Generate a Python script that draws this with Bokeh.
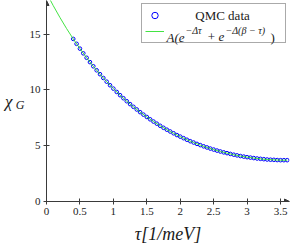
from bokeh.plotting import figure
from bokeh.models import Range1d, FixedTicker, Label, Legend, LegendItem, Arrow, NormalHead, LinearAxis
from bokeh.embed import file_html
from bokeh.resources import INLINE

# ---- data ----
qmc_tau = [0.40, 0.45, 0.50, 0.55, 0.60, 0.65, 0.70, 0.75, 0.80, 0.85,
           0.90, 0.95, 1.00, 1.05, 1.10, 1.15, 1.20, 1.25, 1.30, 1.35,
           1.40, 1.45, 1.50, 1.55, 1.60, 1.65, 1.70, 1.75, 1.80, 1.85,
           1.90, 1.95, 2.00, 2.05, 2.10, 2.15, 2.20, 2.25, 2.30, 2.35,
           2.40, 2.45, 2.50, 2.55, 2.60, 2.65, 2.70, 2.75, 2.80, 2.85,
           2.90, 2.95, 3.00, 3.05, 3.10, 3.15, 3.20, 3.25, 3.30, 3.35,
           3.40, 3.45, 3.50, 3.55, 3.60]
qmc_chi = [14.56, 14.12, 13.69, 13.27, 12.87, 12.48, 12.11, 11.75, 11.40, 11.06,
           10.73, 10.41, 10.11, 9.81, 9.52, 9.25, 8.98, 8.72, 8.48, 8.24,
           8.00, 7.78, 7.57, 7.36, 7.16, 6.97, 6.78, 6.60, 6.43, 6.27,
           6.11, 5.95, 5.81, 5.67, 5.53, 5.40, 5.28, 5.16, 5.05, 4.94,
           4.84, 4.74, 4.65, 4.56, 4.48, 4.40, 4.33, 4.26, 4.19, 4.13,
           4.07, 4.02, 3.97, 3.93, 3.89, 3.85, 3.82, 3.79, 3.76, 3.74,
           3.73, 3.71, 3.70, 3.70, 3.70]
fit_tau = [0.0, 0.1, 0.2, 0.3, 0.4, 0.5, 0.6, 0.7, 0.8, 0.9,
           1.0, 1.1, 1.2, 1.3, 1.4, 1.5, 1.6, 1.7, 1.8, 1.9,
           2.0, 2.1, 2.2, 2.3, 2.4, 2.5, 2.6, 2.7, 2.8, 2.9,
           3.0, 3.1, 3.2, 3.3, 3.4, 3.5, 3.6]
fit_chi = [18.68, 17.55, 16.49, 15.49, 14.56, 13.69, 12.87, 12.11, 11.40, 10.73,
           10.11, 9.52, 8.98, 8.48, 8.00, 7.57, 7.16, 6.78, 6.43, 6.11,
           5.81, 5.53, 5.28, 5.05, 4.84, 4.65, 4.48, 4.33, 4.19, 4.07,
           3.97, 3.89, 3.82, 3.76, 3.73, 3.70, 3.70]

x_ticks = [0, 0.5, 1, 1.5, 2, 2.5, 3, 3.5]
x_tick_labels = ["0", "0.5", "1", "1.5", "2", "2.5", "3", "3.5"]
y_ticks = [0, 5, 10, 15]
y_tick_labels = ["0", "5", "10", "15"]
x_label = "τ[1/meV]"
y_label_main = "χ"
y_label_sub = "G"
series_name = "QMC data"
fit_parts = ["A(e", "−Δτ", "+", "e", "−Δ(β − τ)", ")"]

# ---- layout ----
W, H = 293, 247
X0, X1 = 0.0, 3.634
Y0, Y1 = 0.0, 18.0
FL, FR, FT, FB = 46, 289, 0, 201   # frame edges on the page
SERIF = "Liberation Serif"
AXC = "#3a3a3a"
TXT = "#1a1a1a"


def at(px, py):
    """page pixel -> data coordinates (for text placement only)"""
    return (X0 + (px - FL) * (X1 - X0) / (FR - FL),
            Y1 - (py - FT) * (Y1 - Y0) / (FB - FT))


p = figure(width=W, height=H, output_backend="svg", toolbar_location=None,
           x_range=Range1d(X0, X1), y_range=Range1d(Y0, Y1),
           min_border_left=FL, min_border_right=W - FR, min_border_top=FT,
           min_border_bottom=H - FB)
p.outline_line_color = None
p.grid.visible = False
p.background_fill_color = "white"

pts = p.scatter(qmc_tau, qmc_chi, marker="circle", size=3.6, fill_color=None,
                line_color="blue", line_width=1)
ln = p.line(fit_tau, fit_chi, line_color="#2ee02e", line_width=0.9)

for ax, ticks, labels in ((p.xaxis[0], x_ticks, x_tick_labels),
                          (p.yaxis[0], y_ticks, y_tick_labels)):
    ax.ticker = FixedTicker(ticks=ticks, minor_ticks=[])
    ax.major_label_overrides = {t: l for t, l in zip(ticks, labels)}
    ax.axis_line_color = AXC
    ax.axis_line_width = 1
    ax.major_tick_line_color = AXC
    ax.major_tick_in = 3
    ax.major_tick_out = 3
    ax.minor_tick_line_color = None
    ax.major_label_text_font = SERIF
    ax.major_label_text_font_size = "11px"
    ax.major_label_text_color = "#222222"
    ax.major_label_standoff = 3

p.xaxis.axis_label = x_label
p.xaxis.axis_label_text_font = SERIF
p.xaxis.axis_label_text_font_size = "18px"
p.xaxis.axis_label_text_font_style = "italic"
p.xaxis.axis_label_text_color = TXT
p.xaxis.axis_label_standoff = 6

# y label chi_G: subscript on the main axis (pushed down a little), chi on an outer bare axis
ya = p.yaxis[0]
ya.axis_label = "\n" + y_label_sub
ya.axis_label_orientation = "horizontal"
ya.axis_label_text_font = SERIF
ya.axis_label_text_font_size = "12px"
ya.axis_label_text_font_style = "italic"
ya.axis_label_text_color = TXT
ya.axis_label_text_line_height = 0.6
ya.axis_label_standoff = 2

outer = LinearAxis(axis_label=y_label_main, axis_label_orientation="horizontal",
                   axis_label_text_font=SERIF, axis_label_text_font_size="17px",
                   axis_label_text_font_style="italic", axis_label_text_color=TXT,
                   axis_label_standoff=0,
                   ticker=FixedTicker(ticks=[]), major_label_text_font_size="0px",
                   axis_line_color=None, major_tick_line_color=None,
                   minor_tick_line_color=None, major_label_standoff=0,
                   major_tick_in=0, major_tick_out=0)
p.add_layout(outer, "left")

# axis arrow heads
p.add_layout(Arrow(x_start=X0, y_start=Y1 - 0.5, x_end=X0, y_end=Y1, line_alpha=0,
                   end=NormalHead(size=5, fill_color=AXC, line_color=AXC)))
p.add_layout(Arrow(x_start=X1 - 0.05, y_start=Y0, x_end=X1, y_end=Y0, line_alpha=0,
                   end=NormalHead(size=5, fill_color=AXC, line_color=AXC)))

# legend (samples via Bokeh legend, texts as labels)
legend = Legend(items=[LegendItem(label=" ", renderers=[pts]),
                       LegendItem(label=" ", renderers=[ln])],
                location=(141 - FL, FB - 43), orientation="vertical",
                padding=3, spacing=0, margin=0, glyph_width=19, glyph_height=16,
                label_standoff=2, label_width=116, label_height=16,
                label_text_font_size="9px",
                border_line_color="#555555", border_line_width=1,
                background_fill_alpha=0)
p.add_layout(legend, "center")

qx, qy = at(222, 15)
p.add_layout(Label(x=qx, y=qy, text=series_name, text_font=SERIF, text_font_size="13px",
                   text_align="center", text_baseline="middle", text_color=TXT))

main_y = 36.7
sup_y = 29.5
pieces = [(fit_parts[0], 166, main_y, "13px", "italic", "left"),
          (fit_parts[1], 185, sup_y, "10px", "italic", "left"),
          (fit_parts[2], 211, main_y, "13px", "normal", "center"),
          (fit_parts[3], 218, main_y, "13px", "italic", "left"),
          (fit_parts[4], 225, sup_y, "10px", "italic", "left"),
          (fit_parts[5], 270, main_y, "13px", "normal", "left")]
for txt, px, py, fs, st, al in pieces:
    lx, ly = at(px, py)
    p.add_layout(Label(x=lx, y=ly, text=txt, text_font=SERIF, text_font_size=fs,
                       text_font_style=st, text_align=al, text_baseline="alphabetic",
                       text_color=TXT))

open("out.html", "w").write(file_html(p, INLINE))
